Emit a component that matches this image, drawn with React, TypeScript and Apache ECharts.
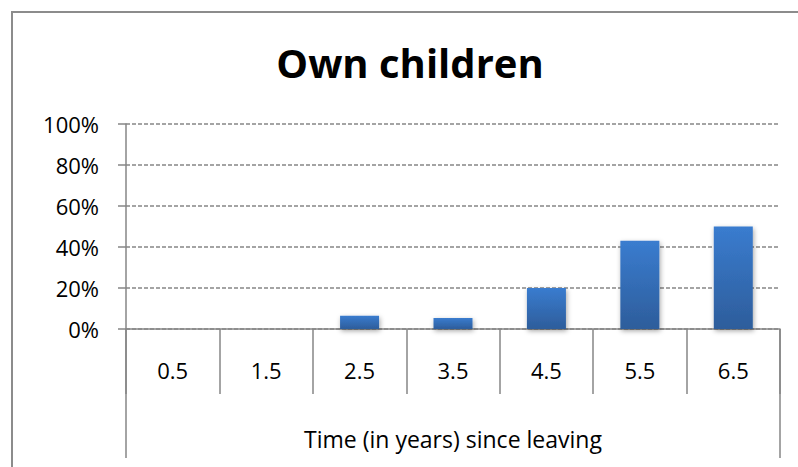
import React, { useEffect, useRef } from "react";
import * as echarts from "echarts";

const categories = ["0.5", "1.5", "2.5", "3.5", "4.5", "5.5", "6.5"];
const shareWithChildren = [0, 0, 6.5, 5.4, 20, 43, 50];
const groupLabel = ["Time (in years) since leaving"];
const titleText = "Own children";

const AXIS_GREY = "#868686";
const FONT = "'Open Sans', 'Noto Sans', sans-serif";

export default function App() {
  const ref = useRef<HTMLDivElement>(null);

  useEffect(() => {
    if (!ref.current) return;
    const chart = echarts.init(ref.current, undefined, { renderer: "svg" });
    chart.setOption({
      animation: false,
      backgroundColor: "#ffffff",
      grid: { left: 126, right: 18, top: 124, bottom: 138 },
      graphic: [
        {
          type: "rect",
          shape: { x: 12, y: 12, width: 820, height: 500 },
          style: { fill: "none", stroke: "#8c8c8c", lineWidth: 2 },
          silent: true,
        },
        {
          type: "text",
          x: 410,
          y: 62,
          style: {
            text: titleText,
            font: `bold 40px ${FONT}`,
            fill: "#000",
            align: "center",
            verticalAlign: "middle",
          },
        },
      ],
      xAxis: [
        {
          type: "category",
          data: categories,
          position: "bottom",
          axisLine: { show: true, lineStyle: { color: AXIS_GREY, width: 1.5 } },
          axisTick: { show: true, length: 65, lineStyle: { color: AXIS_GREY, width: 1.5 } },
          axisLabel: { margin: 30, color: "#000", fontSize: 22, fontFamily: FONT },
        },
        {
          type: "category",
          data: groupLabel,
          position: "bottom",
          axisLine: { show: false },
          axisTick: { show: true, length: 129, lineStyle: { color: AXIS_GREY, width: 1.5 } },
          axisLabel: { margin: 98, color: "#000", fontSize: 23, fontFamily: FONT },
        },
      ],
      yAxis: {
        type: "value",
        min: 0,
        max: 100,
        interval: 20,
        axisLine: { show: true, lineStyle: { color: AXIS_GREY, width: 1.5 } },
        axisTick: { show: true, length: 8, lineStyle: { color: AXIS_GREY, width: 1.5 } },
        axisLabel: {
          formatter: "{value}%",
          margin: 27,
          color: "#000",
          fontSize: 22,
          fontFamily: FONT,
        },
        splitLine: {
          show: true,
          lineStyle: { color: AXIS_GREY, width: 1.5, type: [4, 2] },
        },
      },
      series: [
        {
          type: "bar",
          xAxisIndex: 0,
          data: shareWithChildren,
          barWidth: 39,
          itemStyle: {
            color: new echarts.graphic.LinearGradient(0, 0, 0, 1, [
              { offset: 0, color: "#3a7ccf" },
              { offset: 1, color: "#2d5d9b" },
            ]),
            shadowColor: "rgba(0,0,0,0.35)",
            shadowBlur: 5,
            shadowOffsetX: 1,
            shadowOffsetY: 2,
          },
        },
      ],
    });
    return () => chart.dispose();
  }, []);

  return (
    <div
      ref={ref}
      style={{ position: "fixed", left: 0, top: 0, width: 798, height: 467 }}
    />
  );
}
